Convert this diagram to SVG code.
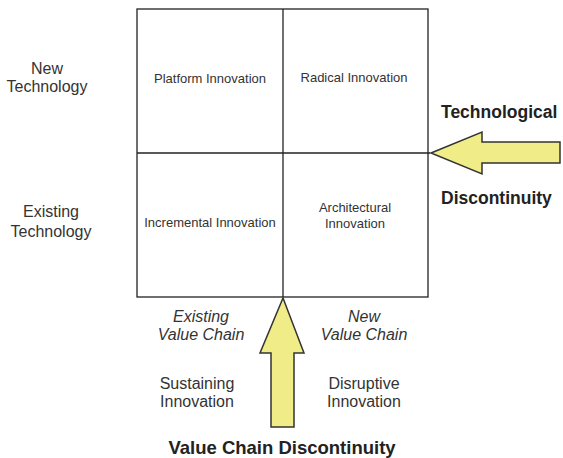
<svg xmlns="http://www.w3.org/2000/svg" width="563" height="458" viewBox="0 0 563 458">
  <style>
    .grid { fill: none; stroke: #222; stroke-width: 1.3; }
    .cell { font-family: "Liberation Sans", Arial, sans-serif; font-size: 13px; fill: #333; text-anchor: middle; }
    .side { font-family: "Liberation Sans", Arial, sans-serif; font-size: 16px; fill: #333; text-anchor: middle; }
    .ital { font-style: italic; }
    .bold { font-family: "Liberation Sans", Arial, sans-serif; font-weight: bold; fill: #222; }
    .arrow { fill: #f0ec88; stroke: #333; stroke-width: 1.5; stroke-linejoin: miter; }
  </style>
  <rect width="563" height="458" fill="#fff"/>

  <!-- 2x2 matrix -->
  <g id="matrix">
    <rect class="grid" x="137" y="9" width="291" height="288"/>
    <line class="grid" x1="283" y1="9" x2="283" y2="297"/>
    <line class="grid" x1="137" y1="153" x2="430" y2="153"/>
  </g>

  <g id="platform"><text class="cell" x="210" y="83">Platform Innovation</text></g>
  <g id="radical"><text class="cell" x="354" y="82">Radical Innovation</text></g>
  <g id="incremental"><text class="cell" x="210" y="227">Incremental Innovation</text></g>
  <g id="architectural">
    <text class="cell" x="355" y="212">Architectural</text>
    <text class="cell" x="355" y="228">Innovation</text>
  </g>

  <!-- row labels -->
  <g id="new-tech">
    <text class="side" x="47" y="74">New</text>
    <text class="side" x="47" y="92">Technology</text>
  </g>
  <g id="existing-tech">
    <text class="side" x="51" y="217">Existing</text>
    <text class="side" x="51" y="237">Technology</text>
  </g>

  <!-- column labels -->
  <g id="existing-vc">
    <text class="side ital" x="201" y="322">Existing</text>
    <text class="side ital" x="201" y="340">Value Chain</text>
  </g>
  <g id="new-vc">
    <text class="side ital" x="364" y="322">New</text>
    <text class="side ital" x="364" y="340">Value Chain</text>
  </g>
  <g id="sustaining">
    <text class="side" x="197" y="389">Sustaining</text>
    <text class="side" x="197" y="407">Innovation</text>
  </g>
  <g id="disruptive">
    <text class="side" x="364" y="389">Disruptive</text>
    <text class="side" x="364" y="407">Innovation</text>
  </g>

  <!-- discontinuity arrows -->
  <g id="connectors">
    <polygon class="arrow" points="431,153 482,132 482,142 560,142 560,163 482,163 482,174"/>
    <polygon class="arrow" points="283,298 304,353 294,353 294,427 271,427 271,353 260,353"/>
  </g>

  <g id="tech-disc">
    <text class="bold" x="441" y="118" font-size="17.5">Technological</text>
    <text class="bold" x="441" y="204" font-size="17.5">Discontinuity</text>
  </g>
  <g id="vc-disc">
    <text class="bold" x="282" y="454" font-size="18.5" text-anchor="middle">Value Chain Discontinuity</text>
  </g>
</svg>
